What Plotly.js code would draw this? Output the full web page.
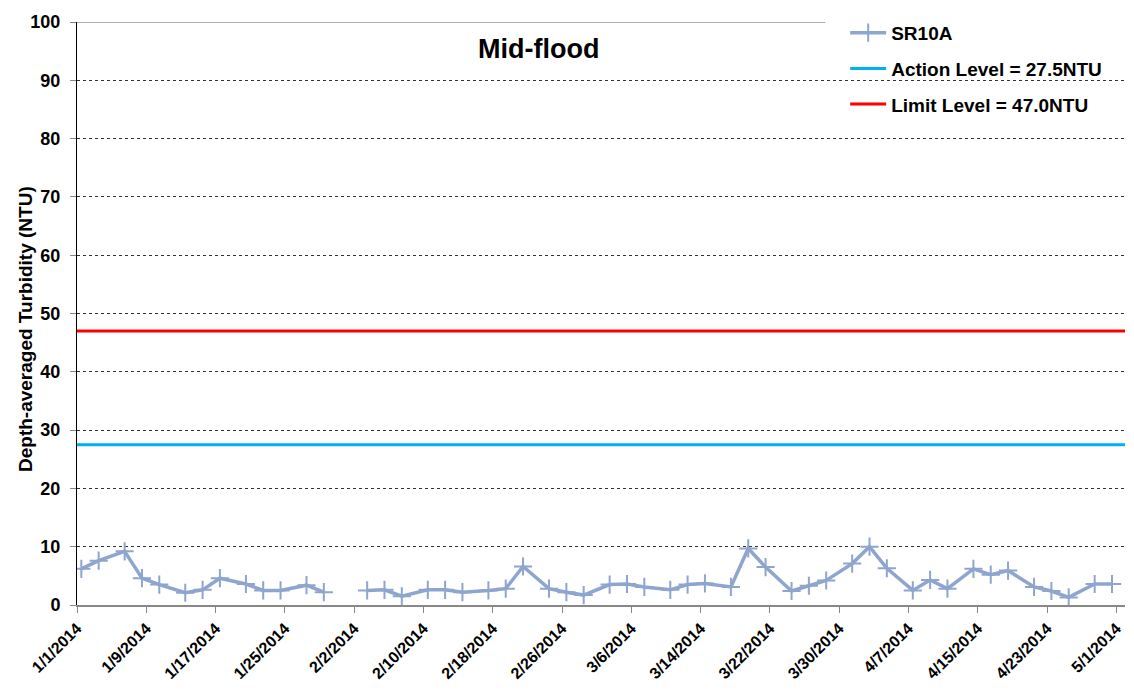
<!DOCTYPE html>
<html>
<head>
<meta charset="utf-8">
<script src="https://cdn.plot.ly/plotly-3.0.1.min.js"></script>
<style>html,body{margin:0;padding:0;background:#fff;}#chart{width:1134px;height:698px;}</style>
</head>
<body>
<div id="chart"></div>
<script>
// Sampling dates (Excel date axis draws each day's point at mid-day)
const dates = ["2014-01-01","2014-01-03","2014-01-06","2014-01-08","2014-01-10","2014-01-13","2014-01-15","2014-01-17","2014-01-20","2014-01-22","2014-01-24","2014-01-27","2014-01-29","2014-01-31",
"2014-02-03","2014-02-05","2014-02-07","2014-02-10","2014-02-12","2014-02-14","2014-02-17","2014-02-19","2014-02-21","2014-02-24","2014-02-26","2014-02-28",
"2014-03-03","2014-03-05","2014-03-07","2014-03-10","2014-03-12","2014-03-14","2014-03-17","2014-03-19","2014-03-21","2014-03-24","2014-03-26","2014-03-28","2014-03-31",
"2014-04-02","2014-04-04","2014-04-07","2014-04-09","2014-04-11","2014-04-14","2014-04-16","2014-04-18","2014-04-21","2014-04-23","2014-04-25","2014-04-28","2014-04-30"];
const sr10a = [6.2,7.6,9.2,4.6,3.5,2.1,2.6,4.6,3.6,2.5,2.5,3.4,2.2,null,
2.5,2.6,1.5,2.6,2.6,2.2,2.5,2.8,6.6,2.8,2.2,1.7,
3.5,3.6,3.1,2.6,3.5,3.7,3.1,9.7,6.5,2.4,3.3,4.2,7.1,
10.0,6.3,2.5,4.3,2.8,6.2,5.2,5.9,3.1,2.4,1.3,3.6,3.6];
const actionLevel = 27.5;
const limitLevel = 47.0;
const yTicks = [0,10,20,30,40,50,60,70,80,90,100];
const tickDates = ["2014-01-01","2014-01-09","2014-01-17","2014-01-25","2014-02-02","2014-02-10","2014-02-18","2014-02-26","2014-03-06","2014-03-14","2014-03-22","2014-03-30","2014-04-07","2014-04-15","2014-04-23","2014-05-01"];
const tickLabels = ["1/1/2014","1/9/2014","1/17/2014","1/25/2014","2/2/2014","2/10/2014","2/18/2014","2/26/2014","3/6/2014","3/14/2014","3/22/2014","3/30/2014","4/7/2014","4/15/2014","4/23/2014","5/1/2014"];
const xStart = "2014-01-01", xEnd = "2014-05-02";

const F = "Arial, 'Liberation Sans', sans-serif";
const traces = [
  {x: dates.map(d => d + " 12:00"), y: sr10a, name: "SR10A", mode: "lines+markers", connectgaps: false, legendgroup: "a",
   line: {color: "#8EA5CF", width: 3.5},
   marker: {symbol: "cross-thin", size: 13, line: {color: "#8EA5CF", width: 2}, color: "#8EA5CF"}},
  {x: [xStart, xEnd], y: [actionLevel, actionLevel], name: "Action Level = 27.5NTU", mode: "lines", legendgroup: "b",
   line: {color: "#00B0F0", width: 3}},
  {x: [xStart, xEnd], y: [limitLevel, limitLevel], name: "Limit Level = 47.0NTU", mode: "lines", legendgroup: "c",
   line: {color: "#FF0000", width: 3}}
];
const layout = {
  width: 1134, height: 698,
  margin: {l: 77, r: 9, t: 22, b: 93},
  paper_bgcolor: "#fff", plot_bgcolor: "#fff",
  showlegend: true,
  legend: {x: 0.733, xanchor: "left", y: 1.014, yanchor: "top", bgcolor: "rgba(255,255,255,0)",
    font: {family: F, size: 19, color: "#000", weight: "bold"}, tracegroupgap: 8, itemwidth: 36},
  shapes: [
    {type: "line", xref: "paper", yref: "y", x0: 0, x1: 1, y0: 100, y1: 100, line: {color: "#999", width: 1.5}, layer: "between"},
    {type: "rect", xref: "paper", yref: "paper", x0: 0.714, x1: 1, y0: 0.83, y1: 1.01, fillcolor: "#fff", line: {width: 0}, layer: "between"}
  ],
  annotations: [
    {text: "Mid-flood", xref: "paper", yref: "paper", x: (538 - 77) / 1048, y: (605 - 49) / 583, xanchor: "center", yanchor: "middle", showarrow: false,
     font: {family: F, size: 27, color: "#000", weight: "bold"}},
    {text: "Depth-averaged Turbidity (NTU)", xref: "paper", yref: "paper", x: (25 - 77) / 1048, y: (605 - 329) / 583, xanchor: "center", yanchor: "middle",
     textangle: -90, showarrow: false, font: {family: F, size: 19, color: "#000", weight: "bold"}}
  ],
  xaxis: {type: "date", range: [xStart, xEnd], tickmode: "array", tickvals: tickDates, ticktext: tickLabels,
    tickangle: -45, ticks: "outside", ticklen: 6, tickcolor: "#888", showline: true, linecolor: "#888", linewidth: 1.5,
    showgrid: false, zeroline: false, tickfont: {family: F, size: 16, color: "#000", weight: "bold"}},
  yaxis: {range: [0, 100], tickvals: yTicks, ticks: "outside", ticklen: 6, tickcolor: "#888",
    showline: true, linecolor: "#000", linewidth: 1, showgrid: true, gridcolor: "#333", griddash: "dot", gridwidth: 1,
    ticklabelstandoff: 6,
    zeroline: false, tickfont: {family: F, size: 18, color: "#000", weight: "bold"}}
};
Plotly.newPlot("chart", traces, layout, {displayModeBar: false});
</script>
</body>
</html>
